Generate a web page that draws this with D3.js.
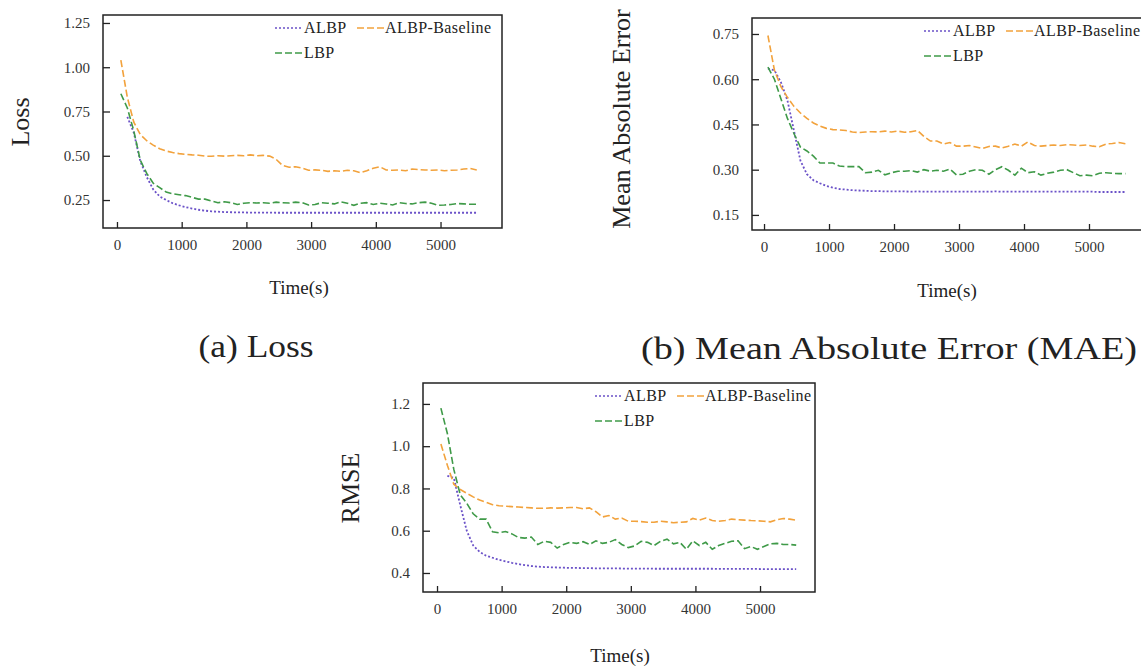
<!DOCTYPE html>
<html>
<head>
<meta charset="utf-8">
<script src="https://cdn.jsdelivr.net/npm/d3@7"></script>
<style>
  body { margin: 0; background: #fff; }
  svg { display: block; }
  svg text { font-family: "Liberation Serif", "Times New Roman", serif; }
</style>
</head>
<body>
<div class="canva"></div>
<script>
// sample times (s), shared by every series
const times = [
  60, 160, 260, 360, 460, 560, 660, 760,
  860, 960, 1060, 1160, 1260, 1360, 1460, 1560,
  1660, 1760, 1860, 1960, 2060, 2160, 2260, 2360,
  2460, 2560, 2660, 2760, 2860, 2960, 3060, 3160,
  3260, 3360, 3460, 3560, 3660, 3760, 3860, 3960,
  4060, 4160, 4260, 4360, 4460, 4560, 4660, 4760,
  4860, 4960, 5060, 5160, 5260, 5360, 5460, 5560
];

const seriesNames = ["ALBP", "ALBP-Baseline", "LBP"];

// (a) Loss
const lossALBP = [
  null, 0.72, 0.63, 0.47, 0.38, 0.31, 0.27, 0.25,
  0.232, 0.22, 0.21, 0.202, 0.195, 0.19, 0.186, 0.184,
  0.182, 0.181, 0.18, 0.18, 0.179, 0.179, 0.179, 0.179,
  0.178, 0.178, 0.178, 0.178, 0.178, 0.178, 0.178, 0.178,
  0.178, 0.178, 0.178, 0.178, 0.178, 0.178, 0.178, 0.178,
  0.178, 0.178, 0.178, 0.178, 0.178, 0.178, 0.178, 0.178,
  0.178, 0.178, 0.178, 0.178, 0.178, 0.178, 0.178, 0.178
];
const lossBaseline = [
  1.04, 0.83, 0.69, 0.62, 0.585, 0.56, 0.54, 0.527,
  0.518, 0.512, 0.508, 0.505, 0.503, 0.498, 0.497, 0.500,
  0.498, 0.500, 0.502, 0.500, 0.505, 0.500, 0.502, 0.498,
  0.480, 0.445, 0.435, 0.438, 0.430, 0.418, 0.420, 0.418,
  0.412, 0.415, 0.412, 0.418, 0.415, 0.405, 0.415, 0.430,
  0.438, 0.420, 0.418, 0.420, 0.415, 0.425, 0.422, 0.420,
  0.418, 0.420, 0.415, 0.418, 0.420, 0.425, 0.428, 0.420
];
const lossLBP = [
  0.85, 0.77, 0.64, 0.475, 0.40, 0.345, 0.32, 0.295,
  0.285, 0.28, 0.275, 0.265, 0.255, 0.255, 0.245, 0.235,
  0.24, 0.235, 0.225, 0.232, 0.235, 0.233, 0.235, 0.232,
  0.238, 0.235, 0.233, 0.238, 0.235, 0.222, 0.225, 0.235,
  0.232, 0.228, 0.24, 0.232, 0.22, 0.232, 0.235, 0.225,
  0.232, 0.228, 0.222, 0.235, 0.23, 0.228, 0.235, 0.238,
  0.232, 0.22, 0.222, 0.225, 0.23, 0.228, 0.226, 0.226
];

// (b) MAE
const maeALBP = [
  0.635, 0.63, 0.59, 0.53, 0.43, 0.33, 0.285, 0.265,
  0.255, 0.246, 0.24, 0.236, 0.234, 0.232, 0.231, 0.23,
  0.229, 0.229, 0.228, 0.228, 0.228, 0.228, 0.227, 0.228,
  0.227, 0.227, 0.227, 0.227, 0.227, 0.227, 0.227, 0.227,
  0.227, 0.227, 0.227, 0.228, 0.227, 0.227, 0.227, 0.227,
  0.227, 0.227, 0.227, 0.227, 0.227, 0.227, 0.227, 0.227,
  0.227, 0.227, 0.227, 0.226, 0.226, 0.226, 0.226, 0.226
];
const maeBaseline = [
  0.745, 0.63, 0.575, 0.54, 0.51, 0.488, 0.47, 0.455,
  0.445, 0.437, 0.433, 0.432, 0.43, 0.425, 0.423, 0.425,
  0.426, 0.425, 0.428, 0.425, 0.428, 0.424, 0.426, 0.43,
  0.41, 0.395, 0.395, 0.385, 0.39, 0.378, 0.378, 0.38,
  0.375, 0.37, 0.377, 0.378, 0.372, 0.378, 0.385, 0.378,
  0.392, 0.38, 0.378, 0.38, 0.382, 0.38, 0.383, 0.382,
  0.38, 0.382, 0.378, 0.376, 0.385, 0.387, 0.39, 0.386
];
const maeLBP = [
  0.64, 0.60, 0.535, 0.47, 0.42, 0.375, 0.362, 0.345,
  0.322, 0.322, 0.322, 0.312, 0.31, 0.31, 0.31, 0.29,
  0.292, 0.298, 0.283, 0.29, 0.295, 0.295, 0.297, 0.292,
  0.30, 0.295, 0.298, 0.295, 0.302, 0.283, 0.285, 0.295,
  0.30, 0.298, 0.285, 0.30, 0.31, 0.298, 0.282, 0.305,
  0.29, 0.293, 0.282, 0.288, 0.292, 0.298, 0.30, 0.29,
  0.28, 0.282, 0.28, 0.288, 0.29, 0.288, 0.287, 0.287
];

// (c) RMSE
const rmseALBP = [
  null, 0.86, 0.85, 0.72, 0.60, 0.53, 0.50, 0.482,
  0.472, 0.462, 0.455, 0.448, 0.442, 0.437, 0.433, 0.43,
  0.428, 0.427, 0.426, 0.425, 0.424, 0.424, 0.423, 0.423,
  0.422, 0.422, 0.422, 0.422, 0.421, 0.421, 0.421, 0.421,
  0.421, 0.42, 0.42, 0.42, 0.42, 0.42, 0.42, 0.42,
  0.42, 0.42, 0.42, 0.419, 0.419, 0.419, 0.419, 0.419,
  0.419, 0.419, 0.418, 0.418, 0.418, 0.418, 0.418, 0.418
];
const rmseBaseline = [
  1.01, 0.91, 0.82, 0.795, 0.777, 0.76, 0.745, 0.735,
  0.723, 0.718, 0.716, 0.714, 0.712, 0.71, 0.708, 0.706,
  0.706, 0.708, 0.707, 0.708, 0.71, 0.71, 0.704, 0.708,
  0.69, 0.665, 0.672, 0.655, 0.66, 0.645, 0.645, 0.643,
  0.64, 0.64, 0.645, 0.642, 0.638, 0.64, 0.642, 0.658,
  0.65, 0.66, 0.648, 0.645, 0.648, 0.655, 0.652, 0.65,
  0.648, 0.647, 0.645, 0.642, 0.652, 0.658, 0.655, 0.65
];
const rmseLBP = [
  1.18, 1.06, 0.89, 0.77, 0.73, 0.68, 0.655, 0.655,
  0.595, 0.59, 0.596, 0.585, 0.568, 0.565, 0.57, 0.535,
  0.55, 0.545, 0.518, 0.535, 0.545, 0.54, 0.548, 0.535,
  0.552, 0.54, 0.545, 0.558, 0.535, 0.52, 0.528, 0.55,
  0.545, 0.53, 0.55, 0.56, 0.538, 0.545, 0.512, 0.552,
  0.53, 0.545, 0.512, 0.53, 0.54, 0.55, 0.552, 0.515,
  0.525, 0.512, 0.525, 0.538, 0.54, 0.535, 0.535, 0.532
];

// tick labels
const xTicks = [0, 1000, 2000, 3000, 4000, 5000];
const lossTicks = [0.25, 0.50, 0.75, 1.00, 1.25];
const maeTicks = [0.15, 0.30, 0.45, 0.60, 0.75];
const rmseTicks = [0.4, 0.6, 0.8, 1.0, 1.2];

const colors = ["#6b52c8", "#f2a23c", "#3f9a48"];
const dashes = ["2,2", "7,3", "7,3"];
const serif = "Liberation Serif, Times New Roman, serif";

const svg = d3.select(".canva").append("svg")
  .attr("width", 1141)
  .attr("height", 666)
  .attr("font-family", serif);

const panels = [
  { left: 103, top: 15, width: 399, height: 213,
    xDomain: [-216, 5950], yDomain: [0.092, 1.295], yTicks: lossTicks, fmt: ".2f",
    series: [lossALBP, lossBaseline, lossLBP],
    yLabel: "Loss", yLabelX: 20, yLabelY: 122,
    titleX: 299, titleY: 294, caption: "(a) Loss", capX: 256, capY: 357, capW: 115 },
  { left: 752, top: 18, width: 399, height: 212,
    xDomain: [-185, 5954], yDomain: [0.100, 0.803], yTicks: maeTicks, fmt: ".2f",
    series: [maeALBP, maeBaseline, maeLBP],
    yLabel: "Mean Absolute Error", yLabelX: 621, yLabelY: 119,
    titleX: 947, titleY: 297, caption: "(b) Mean Absolute Error (MAE)", capX: 889, capY: 359, capW: 496 },
  { left: 423, top: 383, width: 392, height: 209,
    xDomain: [-217, 5851], yDomain: [0.31, 1.299], yTicks: rmseTicks, fmt: ".1f",
    series: [rmseALBP, rmseBaseline, rmseLBP],
    yLabel: "RMSE", yLabelX: 350, yLabelY: 488,
    titleX: 620, titleY: 662, caption: null }
];

panels.forEach(p => {
  const g = svg.append("g")
    .attr("transform", `translate(${p.left}, ${p.top})`);

  const x = d3.scaleLinear().domain(p.xDomain).range([0, p.width]);
  const y = d3.scaleLinear().domain(p.yDomain).range([p.height, 0]);

  // lines
  const line = d3.line()
    .defined(d => d[1] != null)
    .x(d => x(d[0]))
    .y(d => y(d[1]));

  p.series.forEach((vals, i) => {
    g.append("path")
      .datum(times.map((t, k) => [t, vals[k]]))
      .attr("fill", "none")
      .attr("stroke", colors[i])
      .attr("stroke-width", i == 0 ? 1.8 : 1.6)
      .attr("stroke-dasharray", dashes[i])
      .attr("d", line);
  });

  // axes, ticks pointing inwards
  const xAxis = d3.axisBottom(x).tickValues(xTicks).tickFormat(d3.format("d"))
    .tickSizeInner(-6).tickSizeOuter(0).tickPadding(11);
  const yAxis = d3.axisLeft(y).tickValues(p.yTicks).tickFormat(d3.format(p.fmt))
    .tickSizeInner(-7).tickSizeOuter(0).tickPadding(13);

  const gx = g.append("g").attr("transform", `translate(0, ${p.height})`).call(xAxis);
  const gy = g.append("g").call(yAxis);
  [gx, gy].forEach(a => {
    a.attr("font-family", serif);
    a.select(".domain").remove();
    a.selectAll("line").attr("stroke", "#222").attr("stroke-width", 1.3);
    a.selectAll("text").attr("font-size", 15).attr("fill", "#333");
  });

  g.append("rect")
    .attr("width", p.width)
    .attr("height", p.height)
    .attr("fill", "none")
    .attr("stroke", "#222")
    .attr("stroke-width", 1.5);

  // legend
  const legend = [
    { name: seriesNames[0], x0: 172, x1: 200, row: 0, i: 0 },
    { name: seriesNames[1], x0: 254, x1: 281, row: 0, i: 1 },
    { name: seriesNames[2], x0: 172, x1: 200, row: 1, i: 2 }
  ];
  legend.forEach(l => {
    const ly = 13 + l.row * 25;
    g.append("line")
      .attr("x1", l.x0).attr("x2", l.x1)
      .attr("y1", ly).attr("y2", ly)
      .attr("stroke", colors[l.i])
      .attr("stroke-width", 1.6)
      .attr("stroke-dasharray", dashes[l.i]);
    g.append("text")
      .attr("x", l.x1 + 1).attr("y", ly + 5)
      .attr("font-size", 16).attr("letter-spacing", 0.4).attr("fill", "#222")
      .text(l.name);
  });

  // axis titles
  svg.append("text")
    .attr("transform", `translate(${p.yLabelX}, ${p.yLabelY}) rotate(-90)`)
    .attr("text-anchor", "middle")
    .attr("dominant-baseline", "central")
    .attr("font-size", 26).attr("fill", "#222")
    .text(p.yLabel);

  svg.append("text")
    .attr("x", p.titleX).attr("y", p.titleY)
    .attr("text-anchor", "middle")
    .attr("font-size", 19).attr("fill", "#222")
    .text("Time(s)");

  if (p.caption) {
    svg.append("text")
      .attr("x", p.capX).attr("y", p.capY)
      .attr("text-anchor", "middle")
      .attr("font-size", 32).attr("fill", "#222")
      .attr("textLength", p.capW)
      .attr("lengthAdjust", "spacingAndGlyphs")
      .text(p.caption);
  }
});
</script>
</body>
</html>
